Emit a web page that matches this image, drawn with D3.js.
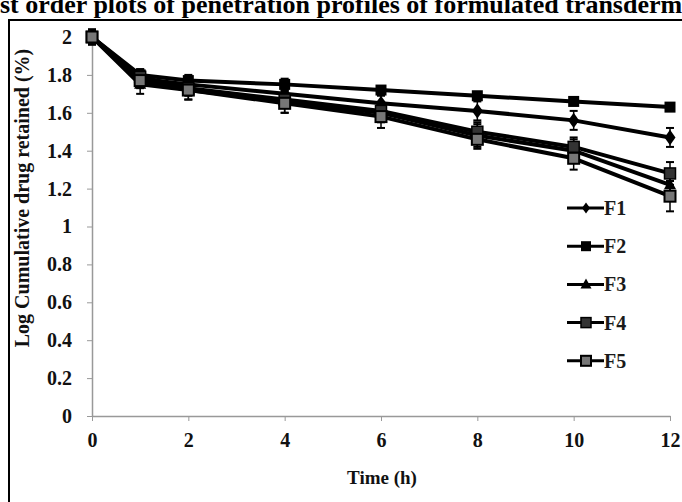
<!DOCTYPE html>
<html><head><meta charset="utf-8">
<script src="https://cdn.jsdelivr.net/npm/d3@7"></script>
<style>html,body{margin:0;padding:0;background:#fff;overflow:hidden}</style>
</head><body>
<svg id="c" width="682" height="502"></svg>
<script>
const times = [0, 1, 2, 4, 6, 8, 10, 12];
const seriesNames = ["F1", "F2", "F3", "F4", "F5"];
const F1 = [2.00, 1.78, 1.75, 1.70, 1.65, 1.61, 1.56, 1.47];
const F2 = [2.00, 1.80, 1.77, 1.75, 1.72, 1.69, 1.66, 1.63];
const F3 = [2.00, 1.75, 1.72, 1.66, 1.60, 1.48, 1.40, 1.22];
const F4 = [2.00, 1.79, 1.73, 1.67, 1.61, 1.50, 1.42, 1.28];
const F5 = [2.00, 1.77, 1.72, 1.65, 1.58, 1.46, 1.36, 1.16];
const F1err = [0.03, 0.04, 0.03, 0.04, 0.04, 0.05, 0.05, 0.05];
const F2err = [0.02, 0.03, 0.03, 0.03, 0.02, 0.02, 0.02, 0.02];
const F3err = [0.04, 0.05, 0.05, 0.06, 0.05, 0.06, 0.06, 0.05];
const F4err = [0.03, 0.04, 0.04, 0.04, 0.04, 0.05, 0.05, 0.06];
const F5err = [0.04, 0.04, 0.05, 0.05, 0.06, 0.05, 0.06, 0.08];
const xTicks = [0, 2, 4, 6, 8, 10, 12];
const yTicks = [0, 0.2, 0.4, 0.6, 0.8, 1, 1.2, 1.4, 1.6, 1.8, 2];
const titleText = "First order plots of penetration profiles of formulated transdermal patches";
const xLabel = "Time (h)";
const yLabel = "Log Cumulative drug retained (%)";

const values = [F1, F2, F3, F4, F5];
const errs = [F1err, F2err, F3err, F4err, F5err];
const markerTypes = ["diamond", "square", "triangle", "square2", "square3"];

const svg = d3.select("#c");
const serif = "'Liberation Serif','Times New Roman',serif";

// title (clipped at top / sides like the reference)
const t = svg.append("text").attr("y", 13).attr("font-family", serif)
  .attr("font-weight", "bold").attr("font-size", 26).attr("fill", "#000");
const pre = t.append("tspan").text("Fir");
t.append("tspan").text(titleText.slice(3));
const preW = pre.node().getComputedTextLength();
t.attr("x", -preW);

// frame
svg.append("path").attr("d", "M9,510 L9,20 L690,20").attr("fill", "none")
  .attr("stroke", "#000").attr("stroke-width", 2);

const x = d3.scaleLinear().domain([0, 12]).range([92, 670]);
const y = d3.scaleLinear().domain([0, 2]).range([416, 37]);

// axes
const xAxis = d3.axisBottom(x).tickValues(xTicks).tickSize(5).tickSizeOuter(0).tickFormat(d3.format("d"));
const gx = svg.append("g").attr("transform", `translate(0,${y(0)})`).call(xAxis);
gx.select(".domain").attr("stroke", "#999").attr("stroke-width", 1.5);
gx.selectAll(".tick line").attr("stroke", "#999");
gx.selectAll(".tick text").attr("font-family", serif).attr("font-weight", "bold")
  .attr("font-size", 20).attr("fill", "#111").attr("y", 14).attr("dy", "0.85em");

const yAxis = d3.axisLeft(y).tickValues(yTicks).tickSize(5).tickSizeOuter(0).tickFormat(d => d3.format("")(d));
const gy = svg.append("g").attr("transform", `translate(${x(0)},0)`).call(yAxis);
gy.select(".domain").attr("stroke", "#999").attr("stroke-width", 1.5);
gy.selectAll(".tick line").attr("stroke", "#999");
gy.selectAll(".tick text").attr("font-family", serif).attr("font-weight", "bold")
  .attr("font-size", 20).attr("fill", "#111").attr("x", -20);

svg.append("text").attr("x", 382).attr("y", 484).attr("text-anchor", "middle")
  .attr("font-family", serif).attr("font-weight", "bold").attr("font-size", 19)
  .attr("fill", "#111").text(xLabel);

svg.append("text").attr("transform", "translate(29,198) rotate(-90)").attr("text-anchor", "middle")
  .attr("font-family", serif).attr("font-weight", "bold").attr("font-size", 20)
  .attr("fill", "#111").text(yLabel);

function drawMarker(g, type, cx, cy, s) {
  if (type === "diamond") {
    g.append("path").attr("d", `M${cx},${cy - s * 0.7}L${cx + s * 0.5},${cy}L${cx},${cy + s * 0.7}L${cx - s * 0.5},${cy}Z`).attr("fill", "#000");
  } else if (type === "square") {
    g.append("rect").attr("x", cx - s / 2).attr("y", cy - s / 2).attr("width", s).attr("height", s).attr("fill", "#000");
  } else if (type === "triangle") {
    g.append("path").attr("d", `M${cx},${cy - s * 0.6}L${cx + s * 0.55},${cy + s * 0.4}L${cx - s * 0.55},${cy + s * 0.4}Z`).attr("fill", "#000");
  } else if (type === "square2") {
    g.append("rect").attr("x", cx - s / 2).attr("y", cy - s / 2).attr("width", s).attr("height", s).attr("fill", "#333").attr("stroke", "#000").attr("stroke-width", 1.5);
  } else {
    g.append("rect").attr("x", cx - s / 2).attr("y", cy - s / 2).attr("width", s).attr("height", s).attr("fill", "#777").attr("stroke", "#000").attr("stroke-width", 2);
  }
}

const line = d3.line().x((d, i) => x(times[i])).y(d => y(d));
const plot = svg.append("g");
values.forEach((vals, si) => {
  const g = plot.append("g");
  vals.forEach((v, i) => {
    const e = errs[si][i];
    const cx = x(times[i]);
    g.append("line").attr("x1", cx).attr("x2", cx).attr("y1", y(v - e)).attr("y2", y(v + e)).attr("stroke", "#000").attr("stroke-width", 1.5);
    [v - e, v + e].forEach(w => g.append("line").attr("x1", cx - 4).attr("x2", cx + 4).attr("y1", y(w)).attr("y2", y(w)).attr("stroke", "#000").attr("stroke-width", 2));
  });
  g.append("path").datum(vals).attr("d", line).attr("fill", "none").attr("stroke", "#000").attr("stroke-width", 4).attr("stroke-linejoin", "round");
});
values.forEach((vals, si) => {
  const g = plot.append("g");
  vals.forEach((v, i) => drawMarker(g, markerTypes[si], x(times[i]), y(v), 11));
});

// legend
const legY0 = 208, legDy = 38.2;
seriesNames.forEach((name, i) => {
  const ly = legY0 + i * legDy;
  const g = svg.append("g");
  g.append("line").attr("x1", 567).attr("x2", 604).attr("y1", ly).attr("y2", ly).attr("stroke", "#000").attr("stroke-width", 3);
  drawMarker(g, markerTypes[i], 586, ly, i === 0 ? 8 : 10);
  g.append("text").attr("x", 604).attr("y", ly + 7).attr("font-family", serif).attr("font-weight", "bold")
    .attr("font-size", 20).attr("fill", "#1a1a1a").text(name);
});
</script>
</body></html>
